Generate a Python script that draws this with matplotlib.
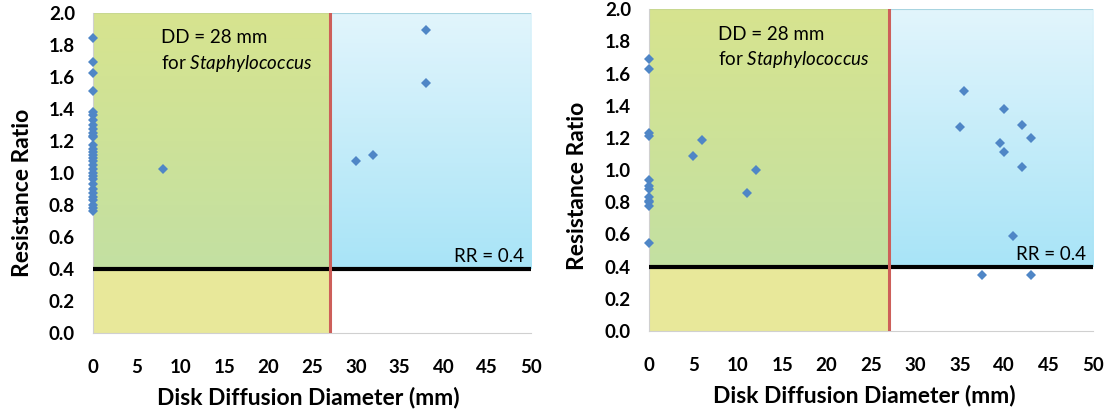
import numpy as np
import matplotlib
matplotlib.use("Agg")
import matplotlib.pyplot as plt
from matplotlib.colors import LinearSegmentedColormap

# ---------------- data ----------------
left_x = [0]*31 + [8, 30, 32, 38, 38]
left_y = [1.84, 1.69, 1.62, 1.51, 1.38, 1.36, 1.33, 1.30, 1.27, 1.25, 1.23, 1.22,
          1.17, 1.15, 1.13, 1.11, 1.09, 1.07, 1.05, 1.02, 1.00, 0.98, 0.96, 0.93,
          0.90, 0.87, 0.85, 0.83, 0.80, 0.78, 0.76,
          1.02, 1.07, 1.11, 1.89, 1.56]

right_x = [0]*12 + [5, 6, 11, 12, 35, 35.5, 40, 42, 43, 39.5, 40, 42, 41, 37.5, 43]
right_y = [1.69, 1.63, 1.23, 1.21, 0.94, 0.90, 0.88, 0.83, 0.81, 0.80, 0.78, 0.55,
           1.09, 1.19, 0.86, 1.00, 1.27, 1.49, 1.38, 1.28, 1.20, 1.17, 1.11, 1.02,
           0.59, 0.35, 0.35]

dd_cut = 27        # red vertical line position
rr_cut = 0.4       # black horizontal line
xticks = list(range(0, 51, 5))
yticks = [0.0, 0.2, 0.4, 0.6, 0.8, 1.0, 1.2, 1.4, 1.6, 1.8, 2.0]

FONT = ["Lato", "DejaVu Sans"]
plt.rcParams['font.family'] = FONT
plt.rcParams['mathtext.fontset'] = 'custom'
plt.rcParams['mathtext.rm'] = 'Lato'
plt.rcParams['mathtext.it'] = 'Lato:italic'

fig = plt.figure(figsize=(11.08, 4.15), dpi=100)
W, H = 1108, 415

green_cmap = LinearSegmentedColormap.from_list("g", ["#c3e0a2", "#d7e48f"])
blue_cmap = LinearSegmentedColormap.from_list("b", ["#a8e4f7", "#e2f5fc"])
grad = np.linspace(0, 1, 256).reshape(-1, 1)

def panel(rect_px, xs, ys, xlab_pos, ylab_pos):
    l, t, r, b = rect_px
    ax = fig.add_axes([l / W, 1 - b / H, (r - l) / W, (b - t) / H])
    # background zones
    ax.imshow(grad, extent=[0, dd_cut, rr_cut, 2.0], cmap=green_cmap,
              origin='lower', aspect='auto', zorder=0)
    ax.imshow(grad, extent=[dd_cut, 50, rr_cut, 2.0], cmap=blue_cmap,
              origin='lower', aspect='auto', zorder=0)
    ax.fill_between([0, dd_cut], 0, rr_cut, color="#e8e89a", zorder=0, lw=0)
    ax.plot([0, dd_cut, dd_cut, 0, 0], [rr_cut, rr_cut, 2.0, 2.0, rr_cut],
            color="#c8d890", lw=0.8, zorder=1)
    ax.plot([dd_cut, 50, 50, dd_cut], [2.0, 2.0, rr_cut, rr_cut],
            color="#a8d4e0", lw=0.8, zorder=1)
    ax.set_xlim(0, 50)
    ax.set_ylim(0, 2.0)
    # lines
    ax.axhline(rr_cut, color="black", lw=3, zorder=3)
    ax.axvline(dd_cut, color="#cd5f5a", lw=2.2, zorder=3)
    # points
    ax.plot(xs, ys, linestyle="none", marker="D", markersize=5.5,
            color="#4f86c6", markeredgewidth=0, zorder=4, clip_on=False)
    # texts
    ax.text(7.8, 1.845, "DD = 28 mm", fontsize=13.5, va="center", ha="left",
            zorder=5)
    ax.text(7.8, 1.685, "for $\\mathit{Staphylococcus}$", fontsize=13.5,
            va="center", ha="left", zorder=5)
    ax.text(49.2, 0.475, "RR = 0.4", fontsize=13.5, va="center", ha="right",
            zorder=5)
    # axes styling
    for s in ["top", "right"]:
        ax.spines[s].set_visible(False)
    for s in ["left", "bottom"]:
        ax.spines[s].set_color("#d0d0d0")
        ax.spines[s].set_linewidth(0.8)
    ax.set_xticks(xticks)
    ax.set_yticks(yticks)
    ax.set_yticklabels([f"{v:.1f}" for v in yticks])
    ax.tick_params(length=0, labelsize=13.5)
    ax.tick_params(axis="x", pad=19)
    ax.tick_params(axis="y", pad=13)
    for lab in ax.get_xticklabels() + ax.get_yticklabels():
        lab.set_fontweight("bold")
    ax.set_xlabel("Disk Diffusion Diameter (mm)", fontsize=16.5, fontweight="bold")
    ax.set_ylabel("Resistance Ratio", fontsize=16.5, fontweight="bold")
    ax.xaxis.set_label_coords(*xlab_pos)
    ax.yaxis.set_label_coords(*ylab_pos)
    ax.xaxis.label.set_va("center")
    ax.yaxis.label.set_va("center")
    return ax

ax1 = panel((93, 12.7, 531, 332.7), left_x, left_y, (0.491, -0.203), (-0.162, 0.4375))
ax2 = panel((649, 9.3, 1093, 331), right_x, right_y, (0.486, -0.199), (-0.162, 0.45))

fig.savefig("out.png", dpi=100)
